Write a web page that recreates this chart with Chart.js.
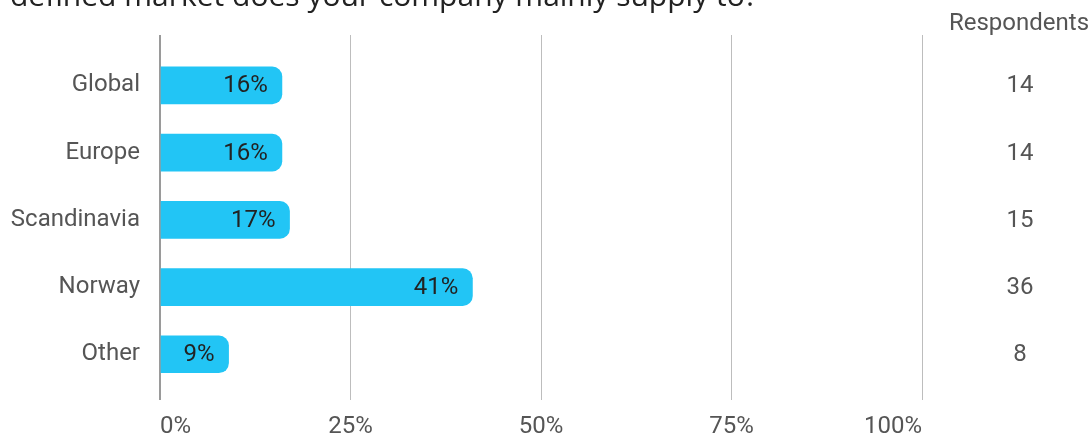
<!DOCTYPE html>
<html>
<head>
<meta charset="utf-8">
<script src="https://cdn.jsdelivr.net/npm/chart.js@4.4.0/dist/chart.umd.min.js"></script>
<style>
  html, body { margin: 0; padding: 0; background: #fff; }
  #wrap { width: 1091px; height: 435px; }
</style>
</head>
<body>
<div id="wrap"><canvas id="marketChart" width="1091" height="435"></canvas></div>
<script>
//data
var markets = ['Global', 'Europe', 'Scandinavia', 'Norway', 'Other'];
var shares = [16, 16, 17, 41, 9];
var respondents = [14, 14, 15, 36, 8];
var xTicks = [0, 25, 50, 75, 100];
var titleText = 'defined market does your company mainly supply to?';

var blue = 'rgb(34, 197, 245)';
var labelGrey = '#555555';

//---------------extra text: title, bar values, respondents column
const textPlugin = {
  id: 'textPlugin',
  afterDatasetsDraw(chart) {
    const ctx = chart.ctx;
    const xs = chart.scales.x;
    const ys = chart.scales.y;
    ctx.save();
    ctx.font = '30px "Open Sans"';
    ctx.fillStyle = '#222';
    ctx.textAlign = 'left';
    ctx.textBaseline = 'alphabetic';
    ctx.fillText(titleText, 10, 6);

    ctx.font = '24px Roboto';
    ctx.textBaseline = 'middle';
    ctx.fillStyle = '#222';
    ctx.textAlign = 'right';
    shares.forEach(function(v, i) {
      ctx.fillText(v + '%', xs.getPixelForValue(v) - 14, ys.getPixelForValue(i) + 1);
    });

    ctx.fillStyle = labelGrey;
    ctx.textAlign = 'center';
    respondents.forEach(function(n, i) {
      ctx.fillText(String(n), 1020, ys.getPixelForValue(i) + 1);
    });
    ctx.fillText('Respondents', 1019, 24);
    ctx.restore();
  }
};

new Chart(
  document.getElementById('marketChart'), {
    type: 'bar',
    data: {
      datasets: [{
        data: shares.map(function(v, i) { return {x: v, y: i}; }),
        backgroundColor: blue,
        borderWidth: 0,
        borderRadius: 10,
        borderSkipped: 'start',
        barThickness: 37
      }]
    },
    options: {
      indexAxis: 'y',
      responsive: false,
      animation: false,
      layout: { padding: { top: 35, right: 169, left: 0, bottom: 0 } },
      plugins: { legend: { display: false }, tooltip: { enabled: false } },
      scales: {
        x: {
          type: 'linear',
          min: 0,
          max: 100,
          afterBuildTicks: function(s) { s.ticks = xTicks.map(function(v) { return {value: v}; }); },
          afterFit: function(s) { s.height = 35; },
          border: { display: false },
          grid: {
            drawTicks: false,
            color: function(c) { return c.tick && c.tick.value === 0 ? '#9a9a9a' : '#bdbdbd'; },
            lineWidth: function(c) { return c.tick && c.tick.value === 0 ? 2 : 1; }
          },
          ticks: {
            padding: 13,
            align: 'inner',
            color: labelGrey,
            font: { family: 'Roboto', size: 24 },
            callback: function(v) { return v + '%'; }
          }
        },
        y: {
          type: 'linear',
          offset: false,
          reverse: true,
          min: -0.75,
          max: 4.68,
          afterBuildTicks: function(s) { s.ticks = markets.map(function(m, i) { return {value: i}; }); },
          afterFit: function(s) { s.width = 160; },
          border: { display: false },
          grid: { display: false, drawTicks: false, offset: false },
          ticks: {
            padding: 20,
            color: labelGrey,
            font: { family: 'Roboto', size: 24 },
            callback: function(v) { return markets[v]; }
          }
        }
      }
    },
    plugins: [textPlugin]
  }
);
</script>
</body>
</html>
